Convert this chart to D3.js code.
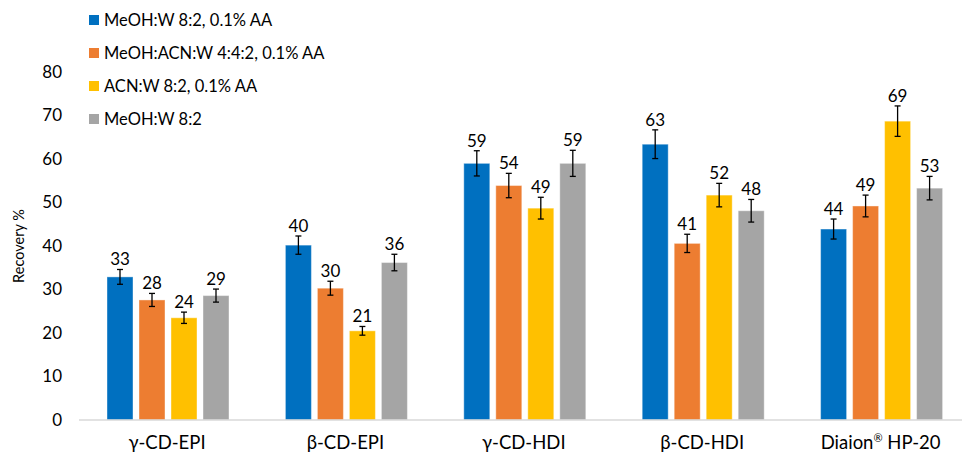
<!DOCTYPE html>
<html>
<head>
<meta charset="utf-8">
<script src="https://cdn.jsdelivr.net/npm/d3@7"></script>
<style>
  body { margin: 0; background: #fff; }
  text { font-family: Lato, "Open Sans", sans-serif; fill: #000; }
</style>
</head>
<body>
<svg id="chart" width="962" height="455"></svg>
<script>
const categories = ["γ-CD-EPI", "β-CD-EPI", "γ-CD-HDI", "β-CD-HDI", "Diaion HP-20"];
const seriesNames = ["MeOH:W 8:2, 0.1% AA", "MeOH:ACN:W 4:4:2, 0.1% AA", "ACN:W 8:2, 0.1% AA", "MeOH:W 8:2"];
const colors = ["#0070C0", "#ED7D31", "#FFC000", "#A5A5A5"];
// bar heights per series (one value per category)
const values = [
  [32.9, 40.2, 59.0, 63.4, 43.9],
  [27.6, 30.3, 53.9, 40.6, 49.2],
  [23.5, 20.5, 48.7, 51.7, 68.7],
  [28.6, 36.2, 59.0, 48.1, 53.3]
];
// +/- error
const errors = [
  [1.7, 2.1, 2.9, 3.3, 2.3],
  [1.5, 1.6, 2.8, 2.1, 2.5],
  [1.3, 1.0, 2.5, 2.7, 3.5],
  [1.5, 1.9, 3.0, 2.6, 2.7]
];
const yTicks = [0, 10, 20, 30, 40, 50, 60, 70, 80];

const svg = d3.select("#chart");

const x0 = d3.scaleBand().domain(categories).range([79, 971]);
const x1 = d3.scaleBand().domain(d3.range(seriesNames.length)).range([28, 150]).paddingInner(0.1875);
const y = d3.scaleLinear().domain([0, 80]).range([420, 72]);

// y tick labels
svg.append("g")
  .selectAll("text")
  .data(yTicks)
  .enter()
  .append("text")
  .attr("x", 62)
  .attr("y", d => y(d))
  .attr("dy", "0.35em")
  .attr("text-anchor", "end")
  .style("font-size", "17px")
  .text(d => d);

// y title
svg.append("text")
  .attr("transform", "translate(24," + y(40) + ") rotate(-90)")
  .attr("text-anchor", "middle")
  .style("font-size", "14.5px")
  .text("Recovery %");

// bars
const data = [];
values.forEach((arr, s) => arr.forEach((v, c) => data.push({ s: s, c: categories[c], v: v, e: errors[s][c] })));

const g = svg.append("g");
g.selectAll("rect")
  .data(data)
  .enter()
  .append("rect")
  .attr("x", d => x0(d.c) + x1(d.s))
  .attr("y", d => y(d.v))
  .attr("width", x1.bandwidth())
  .attr("height", d => y(0) - y(d.v))
  .attr("fill", d => colors[d.s])
  .attr("stroke", "#fff")
  .attr("stroke-opacity", 0.4)
  .attr("stroke-width", 1);

// x axis line
svg.append("line")
  .attr("x1", 79)
  .attr("x2", 971)
  .attr("y1", y(0))
  .attr("y2", y(0))
  .style("stroke", "#d9d9d9")
  .style("stroke-width", 1.3);

// error bars
const eb = svg.append("g").attr("stroke", "#000").attr("stroke-width", 1.3);
data.forEach(d => {
  const cx = x0(d.c) + x1(d.s) + x1.bandwidth() / 2;
  eb.append("line").attr("x1", cx).attr("x2", cx).attr("y1", y(d.v + d.e)).attr("y2", y(d.v - d.e));
  eb.append("line").attr("x1", cx - 3).attr("x2", cx + 3).attr("y1", y(d.v + d.e)).attr("y2", y(d.v + d.e));
  eb.append("line").attr("x1", cx - 3).attr("x2", cx + 3).attr("y1", y(d.v - d.e)).attr("y2", y(d.v - d.e));
});

// data labels
svg.append("g")
  .selectAll("text")
  .data(data)
  .enter()
  .append("text")
  .attr("x", d => x0(d.c) + x1(d.s) + x1.bandwidth() / 2)
  .attr("y", d => y(d.v + d.e) - 4)
  .attr("text-anchor", "middle")
  .style("font-size", "17px")
  .text(d => Math.round(d.v));

// category labels
const xl = svg.append("g")
  .selectAll("text")
  .data(categories)
  .enter()
  .append("text")
  .attr("x", d => x0(d) + 88)
  .attr("y", 449)
  .attr("text-anchor", "middle")
  .style("font-size", "18.5px");
xl.each(function (d) {
  const t = d3.select(this);
  if (d === "Diaion HP-20") {
    t.append("tspan").text("Diaion");
    t.append("tspan").attr("dy", "-7").style("font-size", "11px").text("®");
    t.append("tspan").attr("dy", "7").text(" HP-20");
  } else {
    t.text(d);
  }
});

// legend
const leg = svg.append("g")
  .selectAll("g")
  .data(seriesNames)
  .enter()
  .append("g")
  .attr("transform", (d, i) => "translate(89," + (20 + i * 33) + ")");
leg.append("rect")
  .attr("x", 0)
  .attr("y", -5)
  .attr("width", 10)
  .attr("height", 10)
  .attr("fill", (d, i) => colors[i]);
leg.append("text")
  .attr("x", 15)
  .attr("dy", "0.35em")
  .style("font-size", "16.5px")
  .text(d => d);
</script>
</body>
</html>
